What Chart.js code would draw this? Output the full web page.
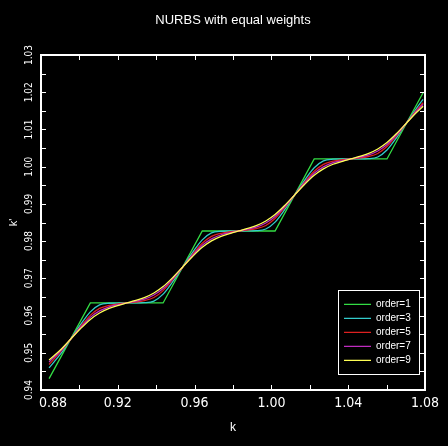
<!DOCTYPE html>
<html><head><meta charset="utf-8">
<script src="https://cdn.jsdelivr.net/npm/chart.js@4/dist/chart.umd.min.js"></script>
<style>html,body{margin:0;padding:0;background:#000;}#wrap{width:448px;height:446px;}</style>
</head><body><div id="wrap"><canvas id="c" width="448" height="446"></canvas></div>
<script>
const chartTitle = 'NURBS with equal weights';
const xTitle = 'k';
const yTitle = "k'";
const seriesLabels = ['order=1', 'order=3', 'order=5', 'order=7', 'order=9'];

// order=1 : control polygon
const kPolygon = [0.8842, 0.9057, 0.9436, 0.9640, 1.0019, 1.0223, 1.0602, 1.0790];
const yOrder1  = [0.94304, 0.96338, 0.96338, 0.98272, 0.98272, 1.00207, 1.00207, 1.01986];

// smooth curves share these k positions
const kSmooth = [0.8842, 0.8905, 0.8955, 0.9005, 0.9057, 0.9105, 0.9155, 0.9205, 0.92465,
  0.9288, 0.9338, 0.9388, 0.9436, 0.9488, 0.9538, 0.9588, 0.9640, 0.9688, 0.9738, 0.9788, 0.98295,
  0.9871, 0.9921, 0.9971, 1.0019, 1.0071, 1.0121, 1.0171, 1.0223, 1.0271, 1.0321, 1.0371, 1.04125,
  1.0454, 1.0504, 1.0554, 1.0602, 1.0654, 1.0704, 1.0754, 1.0790];

const yOrder3 = [0.94595, 0.94989, 0.9537, 0.95751, 0.96099, 0.96285, 0.9633, 0.96337, 0.96338,
  0.96338, 0.96345, 0.9639, 0.96576, 0.96924, 0.97305, 0.97686, 0.98034, 0.9822, 0.98265, 0.98272, 0.98272,
  0.98273, 0.9828, 0.98325, 0.98511, 0.98859, 0.9924, 0.99621, 0.99969, 1.00155, 1.002, 1.00207, 1.00207,
  1.00208, 1.00215, 1.0026, 1.00446, 1.00794, 1.01175, 1.01556, 1.0181];

const yOrder5 = [0.94686, 0.95043, 0.9537, 0.95697, 0.96005, 0.96191, 0.96276, 0.96316, 0.96338,
  0.96359, 0.96399, 0.96484, 0.9667, 0.96978, 0.97305, 0.97632, 0.9794, 0.98126, 0.98211, 0.98251, 0.98272,
  0.98294, 0.98334, 0.98419, 0.98605, 0.98913, 0.9924, 0.99567, 0.99875, 1.00061, 1.00146, 1.00186, 1.00207,
  1.00229, 1.00269, 1.00354, 1.0054, 1.00848, 1.01175, 1.01502, 1.01716];

const yOrder7 = [0.94753, 0.95069, 0.9537, 0.95671, 0.95951, 0.96124, 0.96236, 0.96294, 0.96338,
  0.96381, 0.96439, 0.96551, 0.96724, 0.97004, 0.97305, 0.97606, 0.97886, 0.98059, 0.98171, 0.98229, 0.98272,
  0.98316, 0.98374, 0.98486, 0.98659, 0.98939, 0.9924, 0.99541, 0.99821, 0.99994, 1.00106, 1.00164, 1.00207,
  1.00251, 1.00309, 1.00421, 1.00594, 1.00874, 1.01175, 1.01476, 1.01675];

const yOrder9 = [0.94807, 0.95096, 0.9537, 0.95644, 0.95897, 0.9607, 0.96195, 0.96275, 0.96338,
  0.964, 0.9648, 0.96605, 0.96778, 0.97031, 0.97305, 0.97579, 0.97832, 0.98005, 0.9813, 0.9821, 0.98272,
  0.98335, 0.98415, 0.9854, 0.98713, 0.98966, 0.9924, 0.99514, 0.99767, 0.9994, 1.00065, 1.00145, 1.00207,
  1.0027, 1.0035, 1.00475, 1.00648, 1.00901, 1.01175, 1.01449, 1.01621];

const xTickLabels = ['0.88', '0.92', '0.96', '1.00', '1.04', '1.08'];
const yTickLabels = ['0.94', '0.95', '0.96', '0.97', '0.98', '0.99', '1.00', '1.01', '1.02', '1.03'];

const colors = ['#33dd44', '#33cccc', '#dd2020', '#c02cc0', '#ffff55'];

function pts(xs, ys) { return xs.map((x, i) => ({x: x, y: ys[i]})); }
const seriesData = [pts(kPolygon, yOrder1), pts(kSmooth, yOrder3), pts(kSmooth, yOrder5), pts(kSmooth, yOrder7), pts(kSmooth, yOrder9)];

const datasets = seriesLabels.map((lab, i) => ({
  label: lab,
  data: seriesData[i],
  showLine: true,
  borderColor: colors[i],
  backgroundColor: colors[i],
  borderWidth: 1.3,
  pointRadius: 0,
  tension: 0,
  cubicInterpolationMode: i === 0 ? 'default' : 'monotone',
  order: 5 - i
}));

const NARROW = '"Liberation Sans Narrow", "DejaVu Sans Condensed", sans-serif';
const SANS = '"Liberation Sans", Arial, sans-serif';

const framePlugin = {
  id: 'frame',
  beforeDraw(chart) {
    const ctx = chart.ctx;
    ctx.save(); ctx.fillStyle = '#000'; ctx.fillRect(0, 0, chart.width, chart.height); ctx.restore();
  },
  afterLayout(chart) {
    const lg = chart.legend, ca = chart.chartArea;
    if (!lg || !lg.columnSizes || !lg.columnSizes.length) return;
    const w = 80, h = lg.columnSizes[0].height + 8;
    lg.left = ca.right - 85; lg.top = ca.bottom - 94.7;
    lg.width = w; lg.height = h; lg.right = lg.left + w; lg.bottom = lg.top + h;
  },
  afterDraw(chart) {
    const {ctx, chartArea: a, scales: {x, y}} = chart;
    ctx.save();
    ctx.strokeStyle = '#fff';
    ctx.lineWidth = 1;
    ctx.beginPath();
    const L = 5;
    x.ticks.forEach(t => {
      const p = Math.round(x.getPixelForValue(t.value)) + 0.5;
      ctx.moveTo(p, a.bottom); ctx.lineTo(p, a.bottom - L);
      ctx.moveTo(p, a.top); ctx.lineTo(p, a.top + L);
    });
    y.ticks.forEach(t => {
      const p = Math.round(y.getPixelForValue(t.value)) + 0.5;
      ctx.moveTo(a.left, p); ctx.lineTo(a.left + L, p);
      ctx.moveTo(a.right, p); ctx.lineTo(a.right - L, p);
    });
    ctx.stroke();
    ctx.lineWidth = 2;
    ctx.strokeRect(a.left, a.top, a.right - a.left, a.bottom - a.top);
    ctx.lineWidth = 1;
    ctx.strokeRect(a.right - 86.5, a.bottom - 99.5, 81, 84);
    ctx.restore();
  }
};

new Chart(document.getElementById('c'), {
  type: 'scatter',
  data: {datasets: datasets},
  plugins: [framePlugin],
  options: {
    responsive: false,
    animation: false,
    devicePixelRatio: 1,
    layout: {padding: {left: 0, right: 23, top: 0, bottom: 0}},
    plugins: {
      title: {
        display: true, text: chartTitle, color: '#fff', fullSize: false,
        font: {family: SANS, size: 13, weight: 'normal'},
        padding: {top: 13, bottom: 26.4}
      },
      legend: {
        display: true, position: 'chartArea', align: 'start',
        labels: {
          color: '#fff', font: {family: SANS, size: 10},
          usePointStyle: true, pointStyle: 'line', pointStyleWidth: 27, boxHeight: 10, padding: 4,
          sort: (a, b) => a.datasetIndex - b.datasetIndex
        }
      },
      tooltip: {enabled: false}
    },
    scales: {
      x: {
        type: 'linear', position: 'bottom', min: 0.88, max: 1.08,
        grid: {display: false, drawTicks: false}, border: {display: false},
        ticks: {
          stepSize: 0.02, autoSkip: false, maxRotation: 0, color: '#fff', padding: 5,
          font: {family: NARROW, size: 14},
          callback: (v) => {
            const s = Number(v).toFixed(2);
            if (Math.round(v * 100) % 4 !== 0 || !xTickLabels.includes(s)) return '';
            return s === xTickLabels[0] ? '      ' + s : s;
          }
        },
        title: {display: true, text: xTitle, color: '#fff', font: {family: SANS, size: 12}, padding: {top: 0, bottom: 10.8}},
        afterFit: (s) => { s.height = 56; }
      },
      y: {
        type: 'linear', position: 'left', min: 0.94, max: 1.03,
        grid: {display: false, drawTicks: false}, border: {display: false},
        ticks: {
          stepSize: 0.005, autoSkip: false, minRotation: 90, maxRotation: 90, crossAlign: 'center',
          color: '#fff', padding: 1.5, font: {family: NARROW, size: 10},
          callback: (v) => {
            if (Math.round(v * 1000) % 10 !== 0) return '';
            const s = Number(v).toFixed(2);
            return yTickLabels.includes(s) ? s : '';
          }
        },
        title: {display: true, text: yTitle, color: '#fff', font: {family: SANS, size: 11}, padding: {top: 7, bottom: 0}},
        afterFit: (s) => { s.width = 41; }
      }
    }
  }
});
</script>
</body></html>
